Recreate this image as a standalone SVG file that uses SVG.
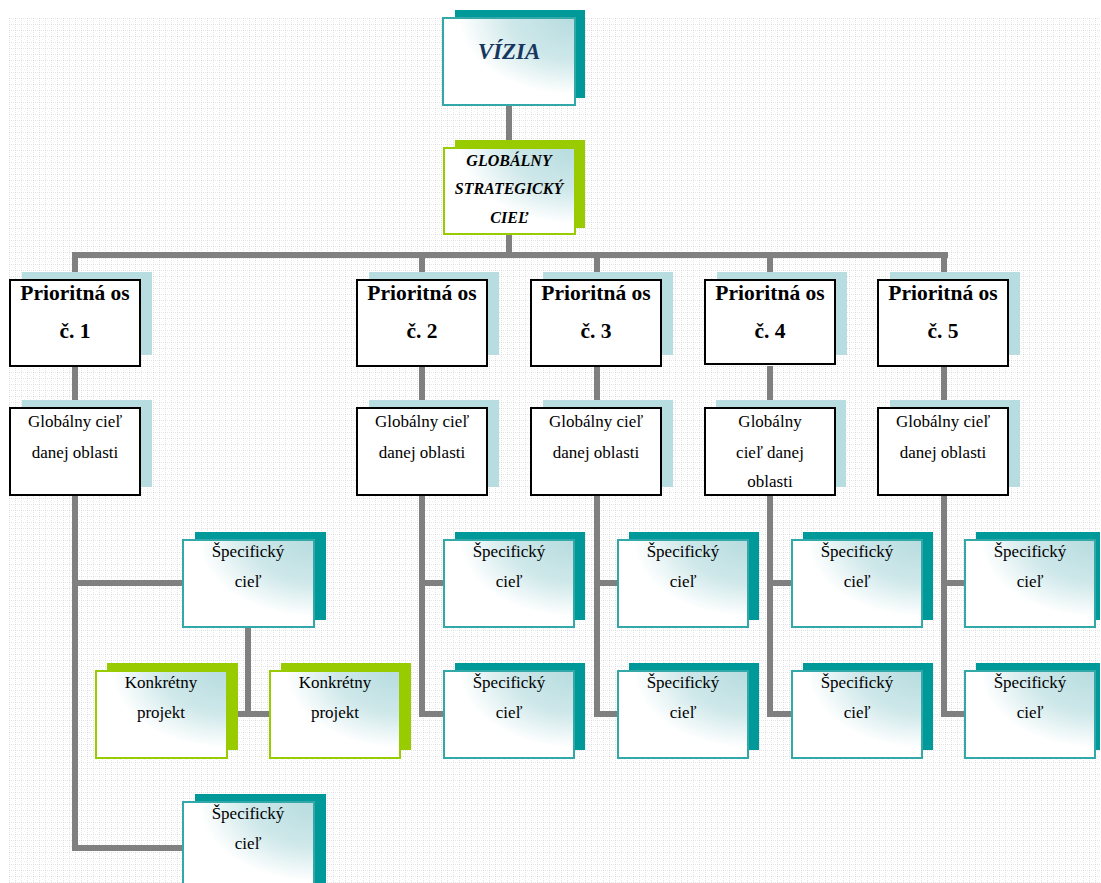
<svg xmlns="http://www.w3.org/2000/svg" width="1101" height="883" viewBox="0 0 1101 883">
<defs>
<pattern id="grid" x="9" y="18" width="6" height="6" patternUnits="userSpaceOnUse">
<rect width="6" height="6" fill="#ffffff"/>
<rect x="0" y="0" width="1" height="1" fill="#dadada"/>
<rect x="2" y="0" width="1" height="1" fill="#e4e4e4"/>
<rect x="4" y="0" width="1" height="1" fill="#e4e4e4"/>
<rect x="0" y="2" width="1" height="1" fill="#e4e4e4"/>
<rect x="0" y="4" width="1" height="1" fill="#e4e4e4"/>
<rect x="3" y="3" width="1" height="1" fill="#f0f0f0"/>
</pattern>
<radialGradient id="fillg" cx="1" cy="0" r="1.1" fx="1" fy="0">
<stop offset="0" stop-color="#b6dcdf"/>
<stop offset="0.45" stop-color="#cfe8ea"/>
<stop offset="0.8" stop-color="#ffffff"/>
<stop offset="1" stop-color="#ffffff"/>
</radialGradient>
<style>
.conn{fill:none;stroke:#808080;stroke-width:6}
.shT{fill:#009999}
.shG{fill:#99cc00}
.shB{fill:#b7dde0}
.mT{fill:url(#fillg);stroke:#33a8a8;stroke-width:2}
.mG{fill:url(#fillg);stroke:#99cc00;stroke-width:2}
.mB{fill:#ffffff;stroke:#000000;stroke-width:2}
text{font-family:"Liberation Serif","Times New Roman",serif;text-anchor:middle;fill:#000}
.vis{font-size:23px;font-weight:bold;font-style:italic;fill:#17375e}
.gsc{font-size:16px;font-weight:bold;font-style:italic}
.pri{font-size:21.5px;font-weight:bold}
.reg{font-size:17px}
</style>
</defs>
<rect x="9" y="18" width="1092" height="865" fill="url(#grid)"/>

<g id="connectors">
<path class="conn" d="M509 105 V148 M509 234 V255 M72 255 H948"/>
<path class="conn" d="M75 255 V280 M422 255 V280 M597 255 V280 M770 255 V280 M944 255 V280"/>
<path class="conn" d="M75 366 V408 M422 366 V408 M597 366 V408 M770 366 V408 M944 366 V408"/>
<path class="conn" d="M75 495 V848 H183 M75 583 H183 M248 628 V714 M227 714 H270"/>
<path class="conn" d="M422 495 V714 H444 M422 583 H444"/>
<path class="conn" d="M597 495 V714 H618 M597 583 H618"/>
<path class="conn" d="M770 495 V714 H792 M770 583 H792"/>
<path class="conn" d="M944 495 V714 H965 M944 583 H965"/>
</g>

<g id="vizia">
<rect class="shT" x="455" y="10" width="130" height="88"/>
<rect class="mT" x="443" y="18" width="132" height="87"/>
<text class="vis" x="509" y="59">VÍZIA</text>
</g>

<g id="globalny-strategicky-ciel">
<rect class="shG" x="455" y="140" width="130" height="88"/>
<rect class="mG" x="444" y="148" width="131" height="86"/>
<text class="gsc" x="509" y="166">GLOBÁLNY</text>
<text class="gsc" x="509" y="194">STRATEGICKÝ</text>
<text class="gsc" x="509" y="223">CIEĽ</text>
</g>

<g id="os1">
<rect class="shB" x="22" y="272" width="130" height="83"/>
<rect class="mB" x="10" y="280" width="130" height="86"/>
<text class="pri" x="75" y="300">Prioritná os</text>
<text class="pri" x="75" y="338">č. 1</text>
</g>
<g id="os2">
<rect class="shB" x="369" y="272" width="130" height="83"/>
<rect class="mB" x="357" y="280" width="130" height="86"/>
<text class="pri" x="422" y="300">Prioritná os</text>
<text class="pri" x="422" y="338">č. 2</text>
</g>
<g id="os3">
<rect class="shB" x="543" y="272" width="130" height="83"/>
<rect class="mB" x="531" y="280" width="130" height="86"/>
<text class="pri" x="596" y="300">Prioritná os</text>
<text class="pri" x="596" y="338">č. 3</text>
</g>
<g id="os4">
<rect class="shB" x="717" y="272" width="130" height="83"/>
<rect class="mB" x="705" y="280" width="130" height="84"/>
<text class="pri" x="770" y="300">Prioritná os</text>
<text class="pri" x="770" y="338">č. 4</text>
</g>
<g id="os5">
<rect class="shB" x="890" y="272" width="130" height="83"/>
<rect class="mB" x="878" y="280" width="130" height="86"/>
<text class="pri" x="943" y="300">Prioritná os</text>
<text class="pri" x="943" y="338">č. 5</text>
</g>

<g id="glob1">
<rect class="shB" x="22" y="400" width="130" height="87"/>
<rect class="mB" x="10" y="408" width="130" height="87"/>
<text class="reg" x="75" y="427">Globálny cieľ</text>
<text class="reg" x="75" y="458">danej oblasti</text>
</g>
<g id="glob2">
<rect class="shB" x="369" y="400" width="130" height="87"/>
<rect class="mB" x="357" y="408" width="130" height="87"/>
<text class="reg" x="422" y="427">Globálny cieľ</text>
<text class="reg" x="422" y="458">danej oblasti</text>
</g>
<g id="glob3">
<rect class="shB" x="543" y="400" width="130" height="87"/>
<rect class="mB" x="531" y="408" width="130" height="87"/>
<text class="reg" x="596" y="427">Globálny cieľ</text>
<text class="reg" x="596" y="458">danej oblasti</text>
</g>
<g id="glob4">
<rect class="shB" x="716" y="400" width="130" height="87"/>
<rect class="mB" x="705" y="408" width="130" height="87"/>
<text class="reg" x="770" y="427">Globálny</text>
<text class="reg" x="770" y="458">cieľ danej</text>
<text class="reg" x="770" y="487">oblasti</text>
</g>
<g id="glob5">
<rect class="shB" x="890" y="400" width="130" height="87"/>
<rect class="mB" x="878" y="408" width="130" height="87"/>
<text class="reg" x="943" y="427">Globálny cieľ</text>
<text class="reg" x="943" y="458">danej oblasti</text>
</g>

<g id="spec1a">
<rect class="shT" x="195" y="532" width="131" height="88"/>
<rect class="mT" x="183" y="540" width="131" height="87"/>
<text class="reg" x="248" y="557">Špecifický</text>
<text class="reg" x="248" y="587">cieľ</text>
</g>
<g id="proj1">
<rect class="shG" x="107" y="663" width="131" height="87"/>
<rect class="mG" x="96" y="671" width="131" height="87"/>
<text class="reg" x="161" y="688">Konkrétny</text>
<text class="reg" x="161" y="718">projekt</text>
</g>
<g id="proj2">
<rect class="shG" x="281" y="663" width="130" height="87"/>
<rect class="mG" x="270" y="671" width="130" height="87"/>
<text class="reg" x="335" y="688">Konkrétny</text>
<text class="reg" x="335" y="718">projekt</text>
</g>
<g id="spec1b">
<rect class="shT" x="195" y="794" width="131" height="95"/>
<rect class="mT" x="183" y="802" width="131" height="90"/>
<text class="reg" x="248" y="819">Špecifický</text>
<text class="reg" x="248" y="849">cieľ</text>
</g>

<g id="spec2a">
<rect class="shT" x="455" y="532" width="130" height="88"/>
<rect class="mT" x="444" y="540" width="130" height="87"/>
<text class="reg" x="509" y="557">Špecifický</text>
<text class="reg" x="509" y="587">cieľ</text>
</g>
<g id="spec2b">
<rect class="shT" x="455" y="663" width="130" height="87"/>
<rect class="mT" x="444" y="671" width="130" height="87"/>
<text class="reg" x="509" y="688">Špecifický</text>
<text class="reg" x="509" y="718">cieľ</text>
</g>
<g id="spec3a">
<rect class="shT" x="629" y="532" width="130" height="88"/>
<rect class="mT" x="618" y="540" width="130" height="87"/>
<text class="reg" x="683" y="557">Špecifický</text>
<text class="reg" x="683" y="587">cieľ</text>
</g>
<g id="spec3b">
<rect class="shT" x="629" y="663" width="130" height="87"/>
<rect class="mT" x="618" y="671" width="130" height="87"/>
<text class="reg" x="683" y="688">Špecifický</text>
<text class="reg" x="683" y="718">cieľ</text>
</g>
<g id="spec4a">
<rect class="shT" x="803" y="532" width="130" height="88"/>
<rect class="mT" x="792" y="540" width="130" height="87"/>
<text class="reg" x="857" y="557">Špecifický</text>
<text class="reg" x="857" y="587">cieľ</text>
</g>
<g id="spec4b">
<rect class="shT" x="803" y="663" width="130" height="87"/>
<rect class="mT" x="792" y="671" width="130" height="87"/>
<text class="reg" x="857" y="688">Špecifický</text>
<text class="reg" x="857" y="718">cieľ</text>
</g>
<g id="spec5a">
<rect class="shT" x="976" y="532" width="124" height="88"/>
<rect class="mT" x="965" y="540" width="130" height="87"/>
<text class="reg" x="1030" y="557">Špecifický</text>
<text class="reg" x="1030" y="587">cieľ</text>
</g>
<g id="spec5b">
<rect class="shT" x="976" y="663" width="124" height="87"/>
<rect class="mT" x="965" y="671" width="130" height="87"/>
<text class="reg" x="1030" y="688">Špecifický</text>
<text class="reg" x="1030" y="718">cieľ</text>
</g>
</svg>
